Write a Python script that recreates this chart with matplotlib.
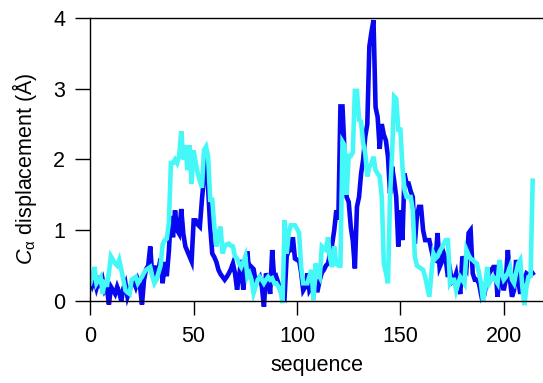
'''
C-alpha displacement along the sequence, two structures compared
'''

import numpy as np
import matplotlib
matplotlib.use('Agg')
import matplotlib.pyplot as plt

plt.rcParams['font.family'] = ['Liberation Sans', 'DejaVu Sans']
plt.rcParams['mathtext.fontset'] = 'custom'
plt.rcParams['mathtext.rm'] = 'Liberation Sans'
plt.rcParams['mathtext.it'] = 'Liberation Sans:italic'

blue_color = '#0808f0'
cyan_color = '#44f8f8'

# displacement per residue (0..214)
blue = [0.32, 0.22, 0.30, 0.18, 0.28, 0.22, 0.30, 0.15, 0.20, -0.05,
        0.20, 0.15, 0.10, 0.20, 0.12, 0.00, 0.18, 0.25, 0.06, 0.15,
        0.25, 0.28, 0.20, 0.30, 0.22, -0.05, 0.30, 0.45, 0.50, 0.77,
        0.35, 0.50, 0.30, 0.45, 0.60, 0.25, 0.55, 0.35, 0.70, 1.20,
        0.90, 1.28, 1.00, 0.95, 1.30, 0.95, 0.77, 0.70, 0.63, 0.56,
        1.14, 1.14, 1.08, 1.05, 1.43, 1.76, 2.13, 1.60, 1.05, 0.67,
        0.62, 0.55, 0.44, 0.38, 0.34, 0.30, 0.34, 0.39, 0.45, 0.53,
        0.39, 0.16, 0.35, 0.58, 0.16, 0.45, 0.70, 0.34, 0.48, 0.45,
        0.27, 0.30, 0.34, 0.20, -0.08, 0.39, 0.30, 0.10, 0.72, 0.30,
        0.34, 0.25, 0.15, 0.10, 0.06, 0.63, 0.72, 0.72, 0.90, 0.60,
        0.58, 0.58, 0.40, 0.15, 0.20, 0.39, 0.15, 0.20, 0.20, 0.15,
        0.15, 0.30, 0.40, 0.44, 0.50, 0.53, 0.67, 0.80, 1.00, 1.28,
        1.15, 2.75, 2.75, 2.10, 1.47, 1.40, 1.05, 0.85, 0.46, 1.33,
        1.47, 1.80, 2.00, 2.32, 2.50, 3.60, 3.80, 3.97, 2.74, 2.60,
        2.15, 2.50, 2.35, 2.27, 2.04, 1.52, 1.90, 1.70, 1.47, 0.77,
        1.28, 0.86, 1.80, 1.66, 1.66, 1.55, 1.47, 0.81, 1.20, 1.33,
        1.33, 1.00, 0.86, 0.86, 0.86, 0.72, 0.60, 0.58, 0.96, 0.48,
        0.55, 0.67, 0.58, 0.34, 0.44, 0.27, 0.30, 0.39, 0.20, 0.10,
        0.63, 0.55, 0.48, 0.96, 1.00, 0.39, 0.30, 0.30, 0.25, 0.10,
        0.20, 0.15, 0.30, 0.39, 0.44, 0.48, 0.48, 0.06, 0.34, 0.34,
        0.15, 0.30, 0.72, 0.30, 0.06, 0.15, 0.58, 0.30, 0.10, 0.34,
        0.30, 0.39, 0.37, 0.37, 0.39]

cyan = [0.25, 0.35, 0.48, 0.25, 0.30, 0.34, 0.10, 0.30, 0.20, 0.40,
        0.63, 0.58, 0.53, 0.50, 0.58, 0.44, 0.30, 0.15, 0.12, 0.10,
        0.30, 0.32, 0.34, 0.25, 0.30, 0.34, 0.40, 0.44, 0.46, 0.48,
        0.35, 0.25, 0.30, 0.40, 0.50, 0.80, 0.86, 0.88, 1.10, 1.95,
        1.95, 2.00, 1.95, 2.05, 2.40, 2.00, 2.20, 1.85, 2.20, 1.66,
        2.13, 1.95, 1.80, 1.70, 1.60, 2.13, 2.18, 2.04, 1.43, 1.43,
        1.05, 0.77, 0.96, 1.05, 0.67, 0.77, 0.80, 0.81, 0.78, 0.77,
        0.63, 0.60, 0.53, 0.48, 0.55, 0.63, 0.34, 0.39, 0.30, 0.11,
        0.20, 0.30, 0.34, 0.30, 0.25, 0.30, 0.34, 0.30, 0.32, 0.25,
        0.25, 0.20, 0.15, -0.03, 1.14, 0.67, 0.96, 1.07, 1.07, 1.07,
        1.02, 0.96, 0.48, 0.25, 0.25, 0.25, 0.35, 0.44, 0.01, 0.53,
        0.40, 0.34, 0.77, 0.74, 0.72, 0.90, 0.60, 0.48, 0.77, 0.53,
        0.50, 0.50, 2.25, 2.20, 1.50, 2.05, 2.05, 2.10, 2.97, 2.97,
        2.56, 2.53, 2.23, 2.09, 1.76, 1.90, 1.94, 2.04, 1.85, 1.80,
        1.76, 1.47, 0.53, 0.40, 0.25, 1.47, 2.09, 2.89, 2.86, 2.42,
        2.42, 1.90, 1.57, 1.47, 1.47, 1.47, 1.28, 0.63, 0.50, 0.48,
        0.46, 0.44, 0.34, 0.20, 0.06, 0.39, 0.67, 0.60, 0.63, 0.70,
        0.75, 0.81, 0.86, 0.86, 0.25, 0.30, 0.30, 0.15, 0.25, 0.34,
        0.30, 0.25, 0.72, 0.65, 0.60, 0.58, 0.55, 0.53, 0.40, 0.25,
        -0.01, 0.20, 0.48, 0.25, 0.30, 0.34, 0.30, 0.25, 0.58, 0.40,
        0.30, 0.34, 0.40, 0.48, 0.30, 0.25, 0.40, 0.53, 0.58, 0.20,
        -0.06, 0.20, 0.34, 0.35, 1.70]

seq = np.arange(len(blue))

fig = plt.figure(figsize=(5.43, 3.83), dpi=100)
ax = fig.add_axes([0.1663, 0.168, 0.8337, 0.785])

ax.plot(seq, blue, color=blue_color, lw=3.3, solid_joinstyle='miter')
ax.plot(seq, cyan, color=cyan_color, lw=3.3, solid_joinstyle='miter')

ax.set_xlim(0, 219)
ax.set_ylim(-0.25, 4)

# igor-ish axes: x axis crosses at zero, frame line on top
ax.spines['right'].set_visible(False)
ax.spines['bottom'].set_position(('data', 0))
ax.spines['left'].set_bounds(0, 4)
for s in ['left', 'bottom', 'top']:
    ax.spines[s].set_linewidth(1.0)

ax.set_xticks([0, 50, 100, 150, 200])
ax.set_yticks([0, 1, 2, 3, 4])
ax.tick_params(axis='y', direction='out', length=11, width=1, pad=7, labelsize=15.5)
ax.tick_params(axis='x', direction='out', length=10, width=1, pad=8, labelsize=15.5)
ax.tick_params(top=False, right=False)

ax.set_xlabel('sequence', fontsize=15.5, labelpad=6)
ax.set_ylabel(r'$C_{\mathrm{\alpha}}$ displacement (Å)', fontsize=15.5, labelpad=10)

plt.savefig('out.png', dpi=100)
